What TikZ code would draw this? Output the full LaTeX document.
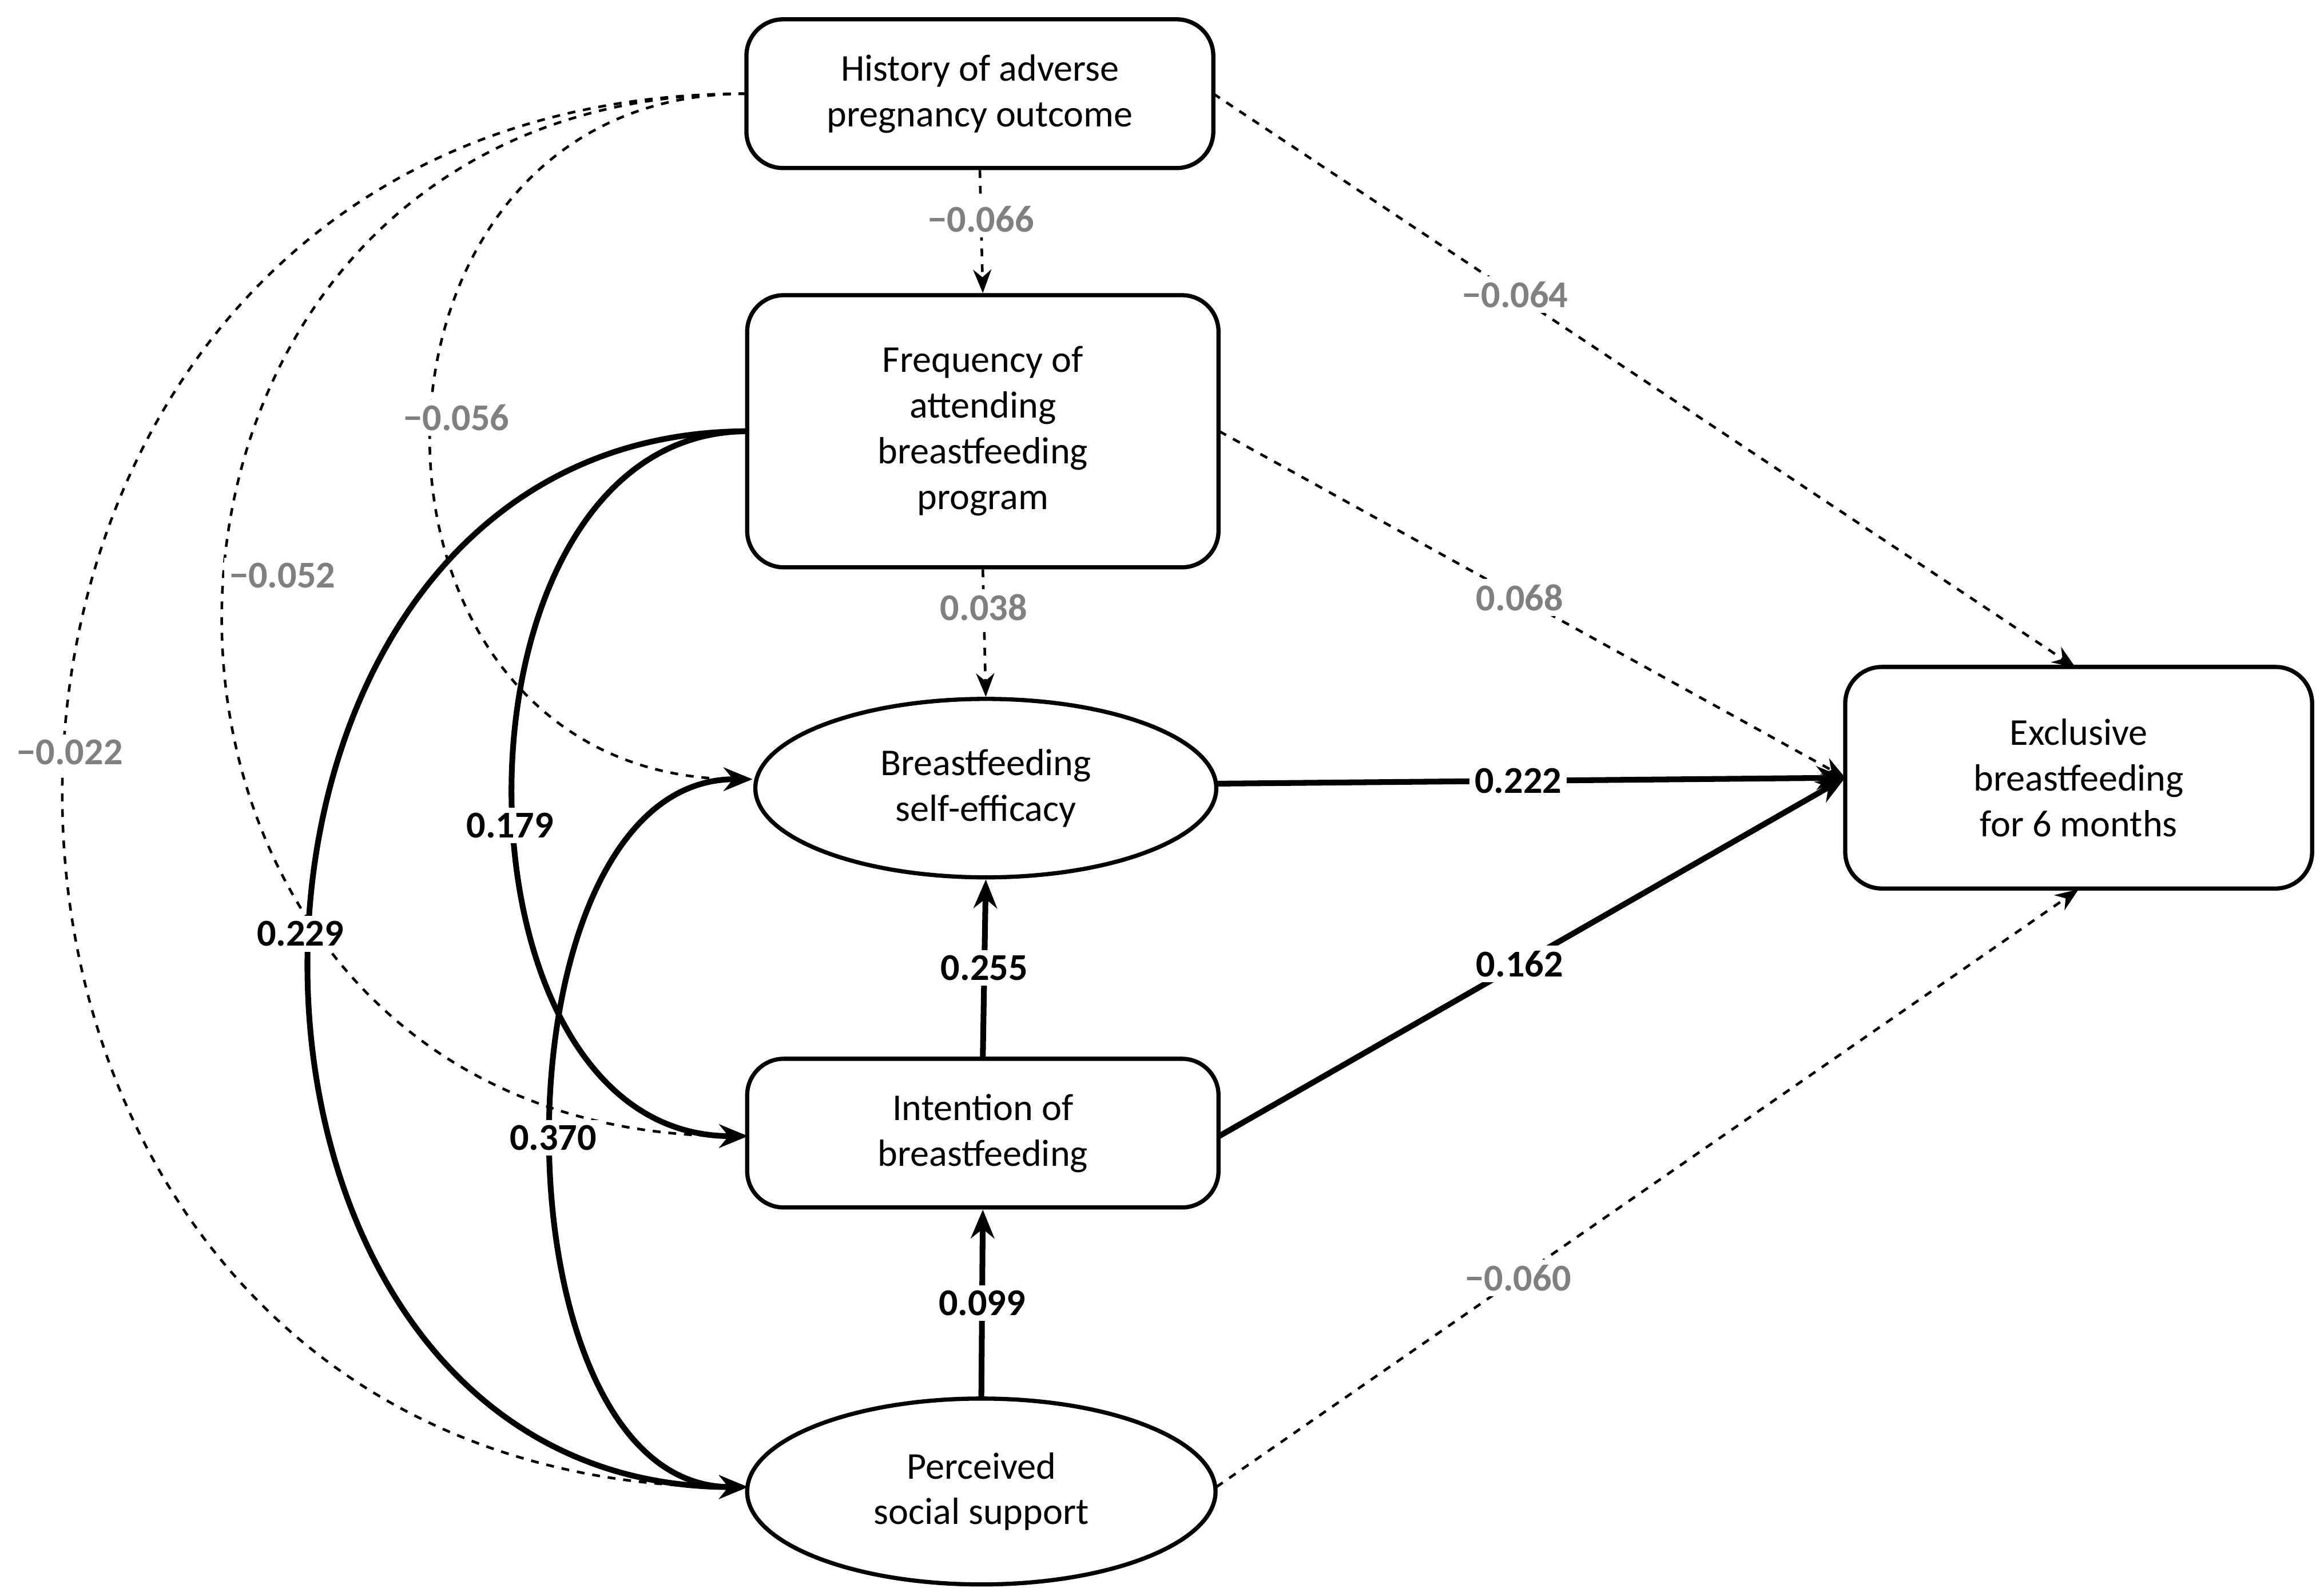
\documentclass[tikz,border=0pt]{standalone}
\usepackage{fontspec}
\setmainfont{Carlito}
\usetikzlibrary{shapes.geometric,arrows.meta}
\begin{document}
\begin{tikzpicture}[x=0.02cm,y=-0.02cm,
  every node/.style={font=\fontsize{14.5}{17.5}\selectfont},
  box/.style={draw,line width=1.6pt,rounded corners=14pt,align=center,inner sep=0},
  ell/.style={draw,line width=1.6pt,ellipse,align=center,inner sep=0},
  dsh/.style={dashed,line width=1pt,-{Stealth[length=9pt,width=7pt]}},
  sol/.style={line width=2.2pt,-{Stealth[length=11pt,width=9pt]}},
  gl/.style={fill=white,text=black!50,font=\fontsize{14.5}{17}\selectfont\bfseries,inner sep=2pt},
  bl/.style={fill=white,font=\fontsize{14.5}{17}\selectfont\bfseries,inner sep=2pt}]
\useasboundingbox (0,0) rectangle (1563,1073);
\node[box,minimum width=314*0.02cm,minimum height=100*0.02cm] (H) at (659,63) {History of adverse\\pregnancy outcome};
\node[box,minimum width=317*0.02cm,minimum height=183*0.02cm] (F) at (661,290) {Frequency of\\attending\\breastfeeding\\program};
\node[ell,minimum width=310*0.02cm,minimum height=120*0.02cm] (B) at (663,530) {Breastfeeding\\self-efficacy};
\node[box,minimum width=317*0.02cm,minimum height=100*0.02cm] (I) at (661,762) {Intention of\\breastfeeding};
\node[ell,minimum width=315*0.02cm,minimum height=125*0.02cm] (P) at (660,1003) {Perceived\\social support};
\node[box,minimum width=314*0.02cm,minimum height=149*0.02cm] (E) at (1398,523) {Exclusive\\breastfeeding\\for 6 months};
\coordinate (Hw) at (502,63);
\coordinate (Fw) at (503,290);
\coordinate (Bw) at (506,524);
\coordinate (Iw) at (503,764);
\coordinate (Pw) at (503,1000);
\coordinate (Be) at (818,527);
\coordinate (Ie) at (820,764);
\coordinate (Pe) at (818,1000);
\coordinate (Fe) at (820,290);
\coordinate (He) at (816,63);
\coordinate (Ew) at (1241,523);
\coordinate (En) at (1396,449);
\coordinate (Es) at (1398,598);
% dashed
\draw[dsh] (H.south) -- node[gl,pos=0.4]{−0.066} (F.north);
\draw[dsh] (F.south) -- node[gl,pos=0.3]{0.038} (B.north);
\draw[dsh] (He) -- node[gl,pos=0.35]{−0.064} (En);
\draw[dsh] (Fe) -- node[gl,pos=0.48]{0.068} (Ew);
\draw[dsh] (Pe) -- node[gl,pos=0.35]{−0.060} (Es);
\draw[dsh] (Hw) .. controls (219,63) and (219,524) .. (Bw);
\draw[dsh] (Hw) .. controls (33,63) and (33,764) .. (Iw);
\draw[dsh] (Hw) .. controls (-110,63) and (-110,1000) .. (Pw);
\node[gl] at (307,281) {−0.056};
\node[gl] at (190,387) {−0.052};
\node[gl] at (47,506) {−0.022};
% solid
\draw[sol] (Be) -- node[bl,pos=0.48]{0.222} (Ew);
\draw[sol] (Ie) -- node[bl,pos=0.48]{0.162} (Ew);
\draw[sol] (I.north) -- node[bl]{0.255} (B.south);
\draw[sol] (P.north) -- node[bl]{0.099} (I.south);
\draw[sol] (Fw) .. controls (293,290) and (293,764) .. (Iw);
\draw[sol] (Fw) .. controls (110,290) and (110,1000) .. (Pw);
\draw[sol,{Stealth[length=11pt,width=9pt]}-{Stealth[length=11pt,width=9pt]}] (Bw) .. controls (328,524) and (328,1000) .. (Pw);
\node[bl] at (343,555) {0.179};
\node[bl] at (202,628) {0.229};
\node[bl] at (372,765) {0.370};
\end{tikzpicture}
\end{document}
